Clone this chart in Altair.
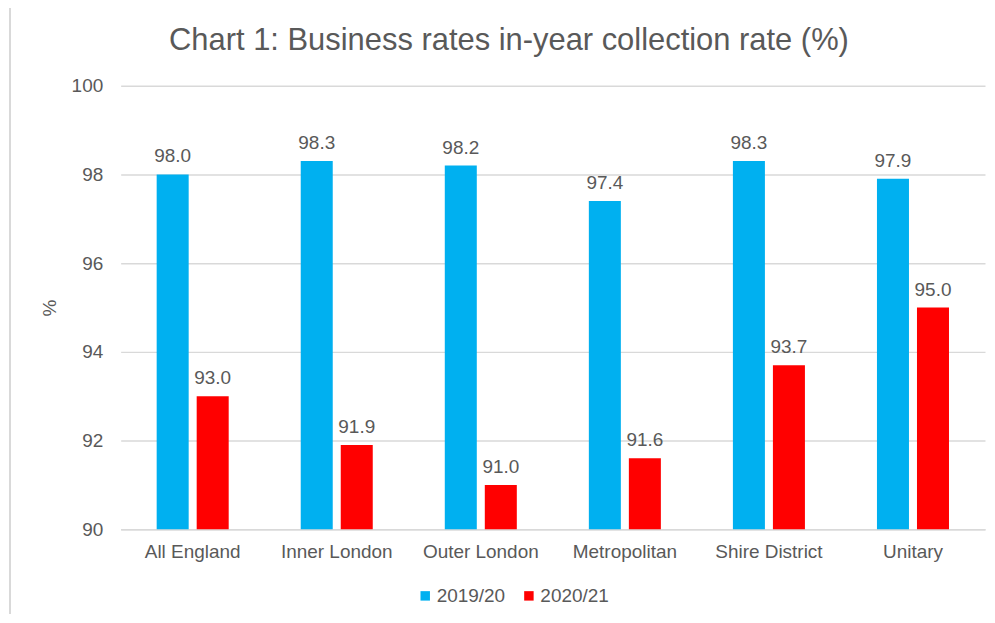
import altair as alt
import pandas as pd

categories = ["All England", "Inner London", "Outer London", "Metropolitan", "Shire District", "Unitary"]
series_names = ["2019/20", "2020/21"]
values_2019 = [98.0, 98.3, 98.2, 97.4, 98.3, 97.9]
values_2020 = [93.0, 91.9, 91.0, 91.6, 93.7, 95.0]
colors = ["#00B0F0", "#FF0000"]
y_ticks = [90, 92, 94, 96, 98, 100]
y_base = 90

rows = []
for c, v1, v2 in zip(categories, values_2019, values_2020):
    rows.append({"category": c, "year": series_names[0], "value": v1})
    rows.append({"category": c, "year": series_names[1], "value": v2})
df = pd.DataFrame(rows)

FONT = "Liberation Sans"
TXT = "#595959"

x_enc = alt.X("category:N", sort=categories, title=None,
              scale=alt.Scale(paddingInner=0.5, paddingOuter=0.25),
              axis=alt.Axis(labelAngle=0, labelFontSize=19, labelColor=TXT, labelFont=FONT,
                            labelPadding=13, ticks=False, domainColor="#d9d9d9", domainWidth=1.5))
xoff = alt.XOffset("year:N", sort=series_names, scale=alt.Scale(paddingInner=0.2, paddingOuter=0))
y_enc = alt.Y("value:Q", title="%",
              scale=alt.Scale(domain=[90, 100], zero=False, nice=False),
              axis=alt.Axis(values=y_ticks, labelFontSize=19, labelColor=TXT, labelFont=FONT,
                            labelPadding=18, ticks=False, domain=False, gridColor="#d9d9d9",
                            gridWidth=1.5, titleFontSize=19, titleColor=TXT, titleFont=FONT,
                            titleFontWeight="normal", titlePadding=12))
color_enc = alt.Color("year:N", sort=series_names,
                      scale=alt.Scale(domain=series_names, range=colors),
                      legend=alt.Legend(title=None, orient="none", direction="horizontal",
                                        legendX=296, legendY=502, symbolType="square",
                                        symbolSize=90, symbolStrokeWidth=0, labelFontSize=19,
                                        labelColor=TXT, labelFont=FONT, columnPadding=14,
                                        labelOffset=2))

base = alt.Chart(df)
bars = base.mark_bar().encode(x=x_enc, xOffset=xoff, y=y_enc, y2=alt.datum(y_base), color=color_enc)
labels = base.mark_text(baseline="bottom", dy=-8, fontSize=19, color=TXT, font=FONT).encode(
    x=alt.X("category:N", sort=categories),
    xOffset=xoff,
    y=alt.Y("value:Q"),
    text=alt.Text("value:Q", format=".1f"),
)
frame = alt.Chart(pd.DataFrame({"a": [0]})).mark_rule(color="#d9d9d9", strokeWidth=2).encode(
    x=alt.value(-111), y=alt.value(-80), y2=alt.value(530)
)

chart = alt.layer(bars, labels, frame).properties(
    width=867, height=445,
    title=alt.TitleParams("Chart 1: Business rates in-year collection rate (%)",
                          fontSize=31, font=FONT, color=TXT, fontWeight="normal",
                          anchor="middle", offset=-52, dx=-44),
    autosize=alt.AutoSizeParams(type="none"),
    padding={"left": 113, "top": 77, "right": 2, "bottom": 85},
).configure_view(stroke=None)

chart.save("out.html", embed_options={"renderer": "svg", "actions": False})
